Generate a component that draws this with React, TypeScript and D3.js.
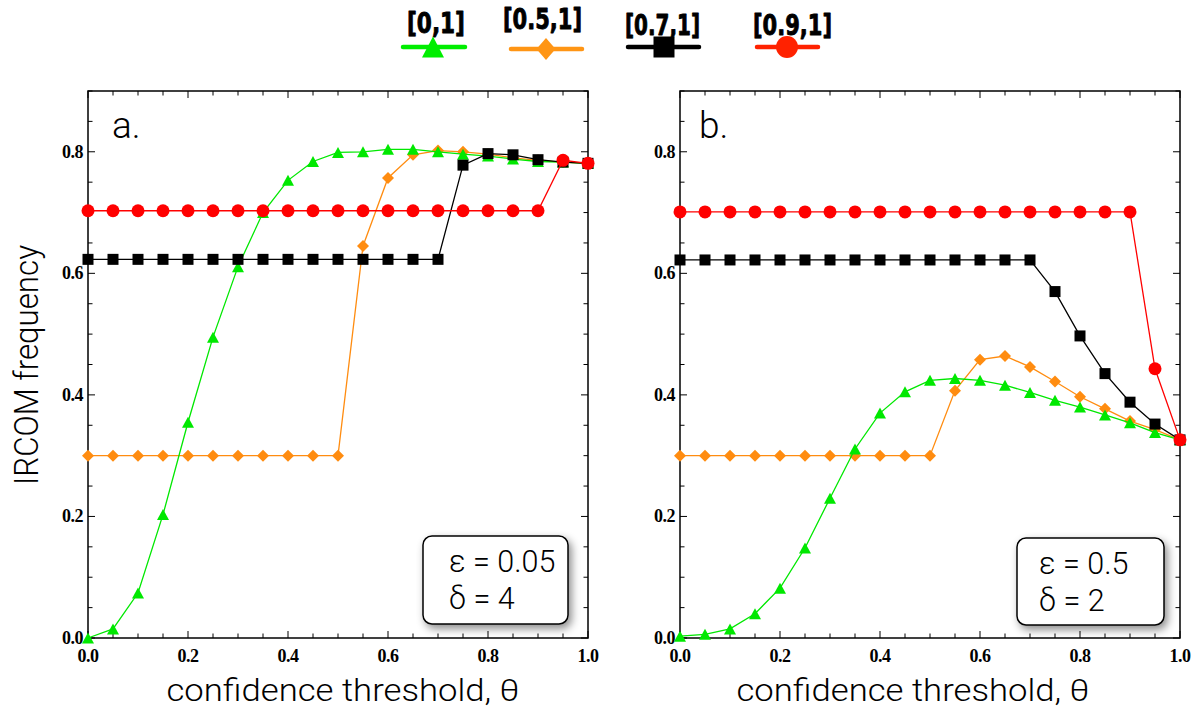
import React from 'react';
import * as d3 from 'd3';

// confidence threshold grid (x values shared by every series)
const thetas = [0, 0.05, 0.1, 0.15, 0.2, 0.25, 0.3, 0.35, 0.4, 0.45, 0.5, 0.55, 0.6, 0.65, 0.7, 0.75, 0.8, 0.85, 0.9, 0.95, 1.0];
const xTickLabels = [0, 0.2, 0.4, 0.6, 0.8, 1.0];
const yTickLabels = [0, 0.2, 0.4, 0.6, 0.8];
const rangeNames = ['[0,1]', '[0.5,1]', '[0.7,1]', '[0.9,1]'];

// panel a: epsilon = 0.05, delta = 4
const aRange01 = [0.0, 0.015, 0.074, 0.203, 0.355, 0.495, 0.611, 0.7, 0.753, 0.784, 0.799, 0.8, 0.804, 0.804, 0.8, 0.796, 0.793, 0.788, 0.784, 0.783, 0.781];
const aRange05 = [0.3, 0.3, 0.3, 0.3, 0.3, 0.3, 0.3, 0.3, 0.3, 0.3, 0.3, 0.645, 0.757, 0.795, 0.802, 0.8, 0.796, 0.79, 0.786, 0.783, 0.781];
const aRange07 = [0.623, 0.623, 0.623, 0.623, 0.623, 0.623, 0.623, 0.623, 0.623, 0.623, 0.623, 0.623, 0.623, 0.623, 0.623, 0.778, 0.797, 0.795, 0.787, 0.783, 0.781];
const aRange09 = [0.703, 0.703, 0.703, 0.703, 0.703, 0.703, 0.703, 0.703, 0.703, 0.703, 0.703, 0.703, 0.703, 0.703, 0.703, 0.703, 0.703, 0.703, 0.703, 0.786, 0.781];

// panel b: epsilon = 0.5, delta = 2
const bRange01 = [0.003, 0.006, 0.015, 0.04, 0.082, 0.148, 0.23, 0.311, 0.37, 0.405, 0.424, 0.427, 0.424, 0.416, 0.404, 0.391, 0.38, 0.367, 0.354, 0.338, 0.326];
const bRange05 = [0.3, 0.3, 0.3, 0.3, 0.3, 0.3, 0.3, 0.3, 0.3, 0.3, 0.3, 0.407, 0.458, 0.464, 0.446, 0.422, 0.397, 0.377, 0.357, 0.343, 0.326];
const bRange07 = [0.622, 0.622, 0.622, 0.622, 0.622, 0.622, 0.622, 0.622, 0.622, 0.622, 0.622, 0.622, 0.622, 0.622, 0.622, 0.57, 0.497, 0.435, 0.388, 0.352, 0.326];
const bRange09 = [0.701, 0.701, 0.701, 0.701, 0.701, 0.701, 0.701, 0.701, 0.701, 0.701, 0.701, 0.701, 0.701, 0.701, 0.701, 0.701, 0.701, 0.701, 0.701, 0.443, 0.326];

const panelLetters = ['a.', 'b.'];
const epsilons = ['0.05', '0.5'];
const deltas = ['4', '2'];
const panelValues = [
  [aRange01, aRange05, aRange07, aRange09],
  [bRange01, bRange05, bRange07, bRange09],
];

// styling
const colors = ['#00e800', '#ff8c10', '#000000', '#ff0000'];
const legendColors = ['#00ee00', '#ff9514', '#000000', '#ff2200'];
const shapes = ['triangle', 'diamond', 'square', 'circle'];
const drawOrder = [1, 0, 2, 3];
const plotMarker = { triangle: [12, 11], diamond: [12, 12], square: [11, 11], circle: [13, 13] };
const legendMarker = { triangle: [22, 21], diamond: [19, 22], square: [21, 21], circle: [22, 22] };

const legendLayout = [
  { cx: 436, by: 33, tw: 58, x0: 403, x1: 465, ly: 47, mx: 433 },
  { cx: 542.5, by: 29, tw: 79, x0: 511, x1: 582, ly: 49, mx: 546 },
  { cx: 662.5, by: 35, tw: 75, x0: 628, x1: 699, ly: 47, mx: 664 },
  { cx: 792.5, by: 35, tw: 79, x0: 757, x1: 818, ly: 47, mx: 787 },
];

const W = 1198;
const H = 711;
const plotTop = 91;
const plotBottom = 638;
const panelsX = [[88, 588], [680, 1180]];
const boxes = [
  { x: 423, y: 536, w: 145, h: 88, tx: 449 },
  { x: 1017, y: 538, w: 147, h: 87, tx: 1039 },
];
const titleCenters = [343, 913];

const sans = 'Roboto, "Helvetica Neue", Arial, sans-serif';
const serif = '"Liberation Serif", "Times New Roman", serif';

function markerPath(shape, w, h) {
  if (shape === 'triangle') return `M0,${-h / 2}L${w / 2},${h / 2}L${-w / 2},${h / 2}Z`;
  if (shape === 'diamond') return `M0,${-h / 2}L${w / 2},0L0,${h / 2}L${-w / 2},0Z`;
  if (shape === 'square') return `M${-w / 2},${-h / 2}h${w}v${h}h${-w}Z`;
  return `M${-w / 2},0a${w / 2},${h / 2} 0 1,0 ${w},0a${w / 2},${h / 2} 0 1,0 ${-w},0Z`;
}

function Panel({ index }) {
  const [left, right] = panelsX[index];
  const x = d3.scaleLinear().domain([0, 1]).range([left, right]);
  const y = d3.scaleLinear().domain([0, 0.9]).range([plotBottom, plotTop]);
  const line = d3.line().x((d) => x(d[0])).y((d) => y(d[1]));

  const xMinor = d3.range(0, 1.0001, 0.05);
  const yMinor = d3.range(0, 0.9001, 0.05);
  const isMajor = (v) => Math.abs(v / 0.2 - Math.round(v / 0.2)) < 1e-6;
  const box = boxes[index];

  return (
    <g>
      {/* ticks on all four sides, pointing inward */}
      {xMinor.map((v) => {
        const len = isMajor(v) ? 7 : 4.5;
        return (
          <g key={'xt' + v} stroke="#000" strokeWidth={1}>
            <line x1={x(v)} x2={x(v)} y1={plotBottom} y2={plotBottom - len} />
            <line x1={x(v)} x2={x(v)} y1={plotTop} y2={plotTop + len} />
          </g>
        );
      })}
      {yMinor.map((v) => {
        const len = isMajor(v) ? 7 : 4.5;
        return (
          <g key={'yt' + v} stroke="#000" strokeWidth={1}>
            <line x1={left} x2={left + len} y1={y(v)} y2={y(v)} />
            <line x1={right} x2={right - len} y1={y(v)} y2={y(v)} />
          </g>
        );
      })}
      <rect x={left} y={plotTop} width={right - left} height={plotBottom - plotTop} fill="none" stroke="#000" strokeWidth={1.5} />

      {xTickLabels.map((v) => (
        <text key={'xl' + v} x={x(v)} y={662} textAnchor="middle" fontFamily={serif} fontWeight="bold" fontSize={18} letterSpacing={-0.5}>
          {v.toFixed(1)}
        </text>
      ))}
      {yTickLabels.map((v) => (
        <text key={'yl' + v} x={left - 5} y={y(v) + 6} textAnchor="end" fontFamily={serif} fontWeight="bold" fontSize={18} letterSpacing={-0.5}>
          {v.toFixed(1)}
        </text>
      ))}

      <text x={index === 0 ? 112 : 699} y={138} fontFamily={sans} fontWeight={300} fontSize={37}>
        {panelLetters[index]}
      </text>

      {drawOrder.map((si) => {
        const vals = panelValues[index][si];
        const pts = thetas.map((t, i) => [t, vals[i]]);
        const [mw, mh] = plotMarker[shapes[si]];
        return (
          <g key={rangeNames[si]}>
            <path d={line(pts)} fill="none" stroke={colors[si]} strokeWidth={1.3} />
            {pts.map((p, i) => (
              <path key={i} transform={`translate(${x(p[0])},${y(p[1])})`} d={markerPath(shapes[si], mw, mh)} fill={colors[si]} />
            ))}
          </g>
        );
      })}

      <rect x={box.x} y={box.y} width={box.w} height={box.h} rx={9} ry={9} fill="#fff" stroke="#000" strokeWidth={1.5} filter="url(#boxShadow)" />
      <text x={box.tx} y={box.y + 36} fontFamily={sans} fontWeight={300} fontSize={30.5}>
        ε = {epsilons[index]}
      </text>
      <text x={box.tx} y={box.y + 73} fontFamily={sans} fontWeight={300} fontSize={30.5}>
        δ = {deltas[index]}
      </text>

      <text x={titleCenters[index]} y={701} textAnchor="middle" fontFamily={sans} fontWeight={300} fontSize={31} textLength={353} lengthAdjust="spacingAndGlyphs">
        confidence threshold, θ
      </text>
    </g>
  );
}

export default function App() {
  return (
    <svg width={W} height={H} style={{ position: 'absolute', left: 0, top: 0, background: '#fff' }}>
      <defs>
        <filter id="boxShadow" x="-20%" y="-20%" width="150%" height="160%">
          <feDropShadow dx={3} dy={4} stdDeviation={4} floodColor="#000" floodOpacity={0.45} />
        </filter>
      </defs>
      <rect width={W} height={H} fill="#fff" />

      {/* legend */}
      {legendLayout.map((l, si) => {
        const [mw, mh] = legendMarker[shapes[si]];
        return (
          <g key={rangeNames[si]}>
            <text x={l.cx} y={l.by} textAnchor="middle" fontFamily='"DejaVu Sans", sans-serif' fontWeight="bold" fontSize={28} stroke="#000" strokeWidth={0.9} strokeLinejoin="round" textLength={l.tw} lengthAdjust="spacingAndGlyphs">
              {rangeNames[si]}
            </text>
            <line x1={l.x0} x2={l.x1} y1={l.ly} y2={l.ly} stroke={legendColors[si]} strokeWidth={4.5} strokeLinecap="round" />
            <path transform={`translate(${l.mx},${l.ly})`} d={markerPath(shapes[si], mw, mh)} fill={legendColors[si]} />
          </g>
        );
      })}

      <text transform="translate(38,365) rotate(-90)" textAnchor="middle" fontFamily={sans} fontWeight={300} fontSize={34} textLength={240} lengthAdjust="spacingAndGlyphs">
        IRCOM frequency
      </text>

      <Panel index={0} />
      <Panel index={1} />
    </svg>
  );
}
